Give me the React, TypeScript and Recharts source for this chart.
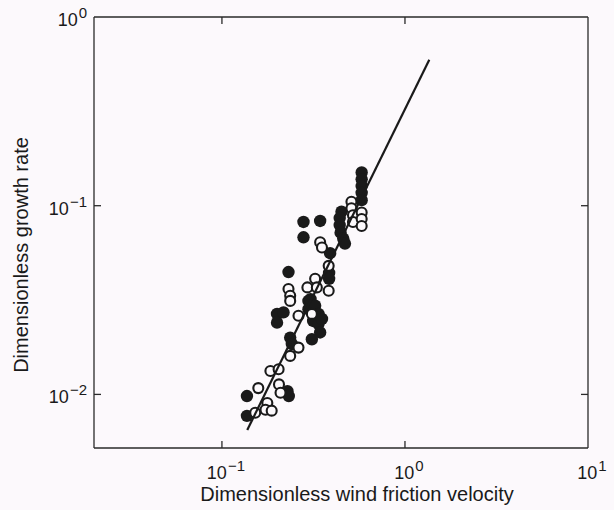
import React from 'react';
import { ScatterChart, Scatter, XAxis, YAxis, ReferenceLine } from 'recharts';

const FONT = '"Liberation Sans", Arial, Helvetica, sans-serif';
const INK = '#1a1a1a';
const PAPER = '#fcf9fc';
const FRAME = '#2a2a2a';

const xDomain = [0.02, 10];
const yDomain = [0.0052, 1];
const xTicks = [0.1, 1, 10];
const yTicks = [0.01, 0.1, 1];
const xInnerTicks = [0.1, 1];
const yInnerTicks = [0.01, 0.1];

const xTitle = 'Dimensionless wind friction velocity';
const yTitle = 'Dimensionless growth rate';

// filled circles
const filledPoints = [
  { x: 0.58, y: 0.15 }, { x: 0.58, y: 0.138 }, { x: 0.58, y: 0.127 }, { x: 0.58, y: 0.117 }, { x: 0.58, y: 0.107 },
  { x: 0.45, y: 0.093 }, { x: 0.44, y: 0.086 }, { x: 0.44, y: 0.079 }, { x: 0.445, y: 0.072 }, { x: 0.46, y: 0.067 }, { x: 0.47, y: 0.063 },
  { x: 0.39, y: 0.056 },
  { x: 0.279, y: 0.082 }, { x: 0.279, y: 0.068 }, { x: 0.344, y: 0.083 },
  { x: 0.231, y: 0.0445 },
  { x: 0.385, y: 0.044 }, { x: 0.385, y: 0.041 },
  { x: 0.2, y: 0.0267 }, { x: 0.2, y: 0.024 }, { x: 0.217, y: 0.0272 },
  { x: 0.297, y: 0.0313 }, { x: 0.297, y: 0.0283 }, { x: 0.305, y: 0.032 }, { x: 0.323, y: 0.0295 },
  { x: 0.315, y: 0.0245 }, { x: 0.337, y: 0.0267 }, { x: 0.337, y: 0.0236 }, { x: 0.352, y: 0.0251 },
  { x: 0.344, y: 0.0213 }, { x: 0.31, y: 0.0196 },
  { x: 0.236, y: 0.02 }, { x: 0.241, y: 0.0185 },
  { x: 0.137, y: 0.0098 }, { x: 0.137, y: 0.0077 },
  { x: 0.228, y: 0.0104 }, { x: 0.232, y: 0.0098 },
];

// open circles
const openPoints = [
  { x: 0.51, y: 0.105 }, { x: 0.51, y: 0.097 }, { x: 0.52, y: 0.089 }, { x: 0.52, y: 0.082 },
  { x: 0.58, y: 0.092 }, { x: 0.58, y: 0.085 }, { x: 0.58, y: 0.078 },
  { x: 0.344, y: 0.064 }, { x: 0.352, y: 0.06 },
  { x: 0.383, y: 0.048 }, { x: 0.383, y: 0.0354 },
  { x: 0.323, y: 0.041 }, { x: 0.293, y: 0.0369 }, { x: 0.33, y: 0.0369 },
  { x: 0.231, y: 0.0362 }, { x: 0.236, y: 0.0333 }, { x: 0.236, y: 0.0313 },
  { x: 0.262, y: 0.0261 }, { x: 0.31, y: 0.0267 },
  { x: 0.262, y: 0.0177 }, { x: 0.236, y: 0.016 },
  { x: 0.184, y: 0.0133 }, { x: 0.204, y: 0.0136 },
  { x: 0.158, y: 0.0108 }, { x: 0.205, y: 0.0113 }, { x: 0.209, y: 0.0102 },
  { x: 0.177, y: 0.009 }, { x: 0.173, y: 0.0083 }, { x: 0.187, y: 0.0082 }, { x: 0.152, y: 0.008 },
];

// fitted power-law line (end points)
const fitLine = [
  { x: 0.1375, y: 0.00648 },
  { x: 1.358, y: 0.594 },
];

function expText(v: number) {
  const e = Math.round(Math.log10(v));
  return e < 0 ? '\u2212' + Math.abs(e) : String(e);
}

const XTick = (props: any) => {
  const { x, payload } = props;
  return (
    <text x={x + 4} y={479} textAnchor="middle" fontSize={18} fill={INK} fontFamily={FONT}>
      <tspan>10</tspan>
      <tspan dx={1} dy={-8} fontSize={15}>{expText(payload.value)}</tspan>
    </text>
  );
};

const YTick = (props: any) => {
  const { y, payload } = props;
  return (
    <text x={87} y={y + 9} textAnchor="end" fontSize={18} fill={INK} fontFamily={FONT}>
      <tspan>10</tspan>
      <tspan dx={1} dy={-8} fontSize={15}>{expText(payload.value)}</tspan>
    </text>
  );
};

const TICK_LEN = 7;

// vertical reference line -> only short inward ticks at top and bottom
const VTickShape = (p: any) => {
  const x = p.x1;
  const top = Math.min(p.y1, p.y2);
  const bot = Math.max(p.y1, p.y2);
  return (
    <g>
      <line x1={x} x2={x} y1={top} y2={top + TICK_LEN} stroke={FRAME} strokeWidth={1.3} />
      <line x1={x} x2={x} y1={bot} y2={bot - TICK_LEN} stroke={FRAME} strokeWidth={1.3} />
    </g>
  );
};

// horizontal reference line -> only short inward ticks at left and right
const HTickShape = (p: any) => {
  const y = p.y1;
  const left = Math.min(p.x1, p.x2);
  const right = Math.max(p.x1, p.x2);
  return (
    <g>
      <line x1={left} x2={left + TICK_LEN} y1={y} y2={y} stroke={FRAME} strokeWidth={1.3} />
      <line x1={right} x2={right - TICK_LEN} y1={y} y2={y} stroke={FRAME} strokeWidth={1.3} />
    </g>
  );
};

const FilledDot = (p: any) => <circle cx={p.cx} cy={p.cy} r={6.2} fill={INK} />;
const OpenDot = (p: any) => (
  <circle cx={p.cx} cy={p.cy} r={5} fill={PAPER} stroke={INK} strokeWidth={2.1} />
);
const NoDot = () => <g />;

const axisStroke = { stroke: FRAME, strokeWidth: 1.3 };

export default function App() {
  return (
    <div style={{ position: 'absolute', left: 0, top: 0, width: 614, height: 510, background: PAPER }}>
      <ScatterChart width={614} height={510} margin={{ top: 17, right: 26, bottom: 0, left: 0 }}>
        <XAxis
          xAxisId="b"
          type="number"
          dataKey="x"
          scale="log"
          domain={xDomain}
          ticks={xTicks}
          interval={0}
          allowDataOverflow
          height={62}
          tickLine={false}
          axisLine={axisStroke}
          tick={<XTick />}
          label={{
            content: () => (
              <text x={357} y={501} textAnchor="middle" fontSize={20} fill={INK} fontFamily={FONT}>
                {xTitle}
              </text>
            ),
          }}
        />
        <YAxis
          yAxisId="l"
          type="number"
          dataKey="y"
          scale="log"
          domain={yDomain}
          ticks={yTicks}
          interval={0}
          allowDataOverflow
          width={94}
          tickLine={false}
          axisLine={axisStroke}
          tick={<YTick />}
          label={{
            content: () => (
              <text
                x={28}
                y={255}
                transform="rotate(-90, 28, 255)"
                textAnchor="middle"
                fontSize={20}
                fill={INK}
                fontFamily={FONT}
              >
                {yTitle}
              </text>
            ),
          }}
        />
        <ReferenceLine xAxisId="b" yAxisId="l" y={yDomain[1]} stroke={FRAME} strokeWidth={1.3} ifOverflow="visible" />
        <ReferenceLine xAxisId="b" yAxisId="l" x={xDomain[1]} stroke={FRAME} strokeWidth={1.3} ifOverflow="visible" />
        {xInnerTicks.map((v) => (
          <ReferenceLine key={'vx' + v} xAxisId="b" yAxisId="l" x={v} shape={VTickShape} ifOverflow="visible" />
        ))}
        {yInnerTicks.map((v) => (
          <ReferenceLine key={'hy' + v} xAxisId="b" yAxisId="l" y={v} shape={HTickShape} ifOverflow="visible" />
        ))}
        <Scatter data={filledPoints} xAxisId="b" yAxisId="l" shape={FilledDot} isAnimationActive={false} />
        <Scatter data={openPoints} xAxisId="b" yAxisId="l" shape={OpenDot} isAnimationActive={false} />
        <Scatter
          data={fitLine}
          xAxisId="b"
          yAxisId="l"
          line={{ stroke: INK, strokeWidth: 2.2 }}
          shape={NoDot}
          isAnimationActive={false}
        />
      </ScatterChart>
    </div>
  );
}
